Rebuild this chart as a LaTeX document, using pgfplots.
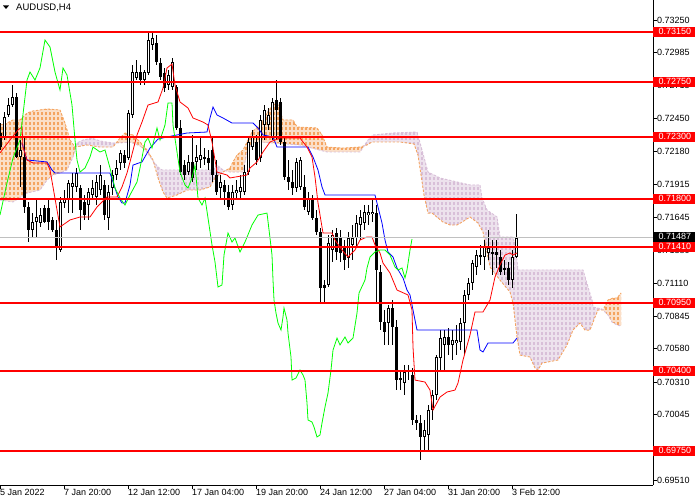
\documentclass[border=0pt]{standalone}
\usepackage{fontspec}
\setmainfont{Liberation Sans}
\usepackage{pgfplots}
\pgfplotsset{compat=1.18}
\usepackage{pgfplotstable}
\usepgfplotslibrary{fillbetween}
\usetikzlibrary{patterns}

\definecolor{sandy}{HTML}{F4A460}
\definecolor{thistlec}{HTML}{D8BFD8}
\definecolor{limec}{HTML}{00FF00}
\definecolor{silverc}{HTML}{C0C0C0}

% vertical dashed hatch, one line per candle (4pt)
\pgfdeclarepatternformonly{cloudhatch}{\pgfqpoint{-1pt}{-1pt}}{\pgfqpoint{5pt}{6pt}}{\pgfqpoint{4pt}{5pt}}{%
  \pgfsetlinewidth{1.2pt}%
  \pgfpathmoveto{\pgfqpoint{2pt}{0pt}}%
  \pgfpathlineto{\pgfqpoint{2pt}{3pt}}%
  \pgfusepath{stroke}}

\newcommand\pbox[2]{{\setlength\fboxsep{0pt}\colorbox{#1}{\rule[-2.3pt]{0pt}{10pt}\hspace{5.5pt}\textcolor{white}{#2}\hspace{3.5pt}}}}

% AUDUSD H4 candles, k = bar index
\pgfplotstableread{
k o h l c
0 0.72332 0.72413 0.72194 0.72218
1 0.72300 0.72503 0.72275 0.72462
2 0.72478 0.72616 0.72462 0.72559
3 0.72559 0.72722 0.72543 0.72624
4 0.72624 0.72657 0.72129 0.72137
5 0.72137 0.72275 0.71894 0.72194
6 0.72137 0.72300 0.71682 0.71731
7 0.71731 0.71772 0.71447 0.71544
8 0.71544 0.71682 0.71488 0.71609
9 0.71609 0.71788 0.71488 0.71650
10 0.71601 0.71723 0.71569 0.71666
11 0.71723 0.71747 0.71601 0.71609
12 0.71723 0.71788 0.71544 0.71609
13 0.71626 0.71650 0.71528 0.71544
14 0.71544 0.71626 0.71301 0.71406
15 0.71382 0.71812 0.71366 0.71772
16 0.71764 0.71869 0.71723 0.71804
17 0.71788 0.71950 0.71682 0.71926
18 0.71894 0.72007 0.71682 0.71926
19 0.71894 0.72048 0.71853 0.72007
20 0.71885 0.71910 0.71544 0.71707
21 0.71772 0.71829 0.71626 0.71666
22 0.71747 0.71885 0.71626 0.71853
23 0.71829 0.71950 0.71788 0.71885
24 0.71812 0.71991 0.71747 0.71934
25 0.71869 0.72072 0.71829 0.71991
26 0.71910 0.71950 0.71626 0.71666
27 0.71642 0.71910 0.71544 0.71853
28 0.71885 0.72032 0.71829 0.71991
29 0.71991 0.72113 0.71950 0.72048
30 0.72088 0.72194 0.72032 0.72170
31 0.72153 0.72194 0.72048 0.72088
32 0.72129 0.72519 0.72113 0.72494
33 0.72478 0.72884 0.72454 0.72827
34 0.72779 0.72925 0.72762 0.72827
35 0.72827 0.72884 0.72722 0.72762
36 0.72762 0.72844 0.72722 0.72827
37 0.72819 0.73144 0.72803 0.73087
38 0.73047 0.73152 0.73006 0.73103
39 0.73063 0.73128 0.72884 0.72909
40 0.72900 0.72941 0.72762 0.72787
41 0.72819 0.72860 0.72665 0.72697
42 0.72722 0.72844 0.72681 0.72803
43 0.72706 0.72941 0.72681 0.72909
44 0.72706 0.72722 0.72356 0.72373
45 0.72373 0.72438 0.71991 0.72015
46 0.72072 0.72113 0.71950 0.71991
47 0.72015 0.72153 0.71991 0.72097
48 0.72097 0.72316 0.71934 0.71967
49 0.72097 0.72235 0.72032 0.72137
50 0.72113 0.72291 0.72048 0.72153
51 0.72121 0.72210 0.72072 0.72137
52 0.72129 0.72194 0.72032 0.72088
53 0.72194 0.72291 0.71934 0.71991
54 0.71991 0.72113 0.71829 0.71853
55 0.71885 0.71991 0.71788 0.71934
56 0.71910 0.71950 0.71747 0.71853
57 0.71853 0.71910 0.71707 0.71731
58 0.71747 0.71910 0.71707 0.71853
59 0.71845 0.71950 0.71788 0.71869
60 0.71853 0.71991 0.71804 0.71894
61 0.71853 0.72072 0.71829 0.72015
62 0.72015 0.72291 0.71991 0.72259
63 0.72218 0.72356 0.72194 0.72300
64 0.72259 0.72316 0.72072 0.72113
65 0.72129 0.72478 0.72097 0.72438
66 0.72397 0.72559 0.72275 0.72519
67 0.72397 0.72535 0.72356 0.72478
68 0.72300 0.72616 0.72275 0.72584
69 0.72600 0.72762 0.72275 0.72519
70 0.72584 0.72616 0.72235 0.72259
71 0.72259 0.72291 0.71950 0.71975
72 0.71975 0.72113 0.71869 0.71934
73 0.71934 0.72032 0.71829 0.71885
74 0.71885 0.72129 0.71853 0.72097
75 0.71894 0.72137 0.71869 0.72113
76 0.71894 0.71991 0.71707 0.71731
77 0.71691 0.71853 0.71666 0.71804
78 0.71804 0.71829 0.71626 0.71642
79 0.71642 0.71707 0.71504 0.71528
80 0.71528 0.71561 0.70952 0.71073
81 0.71098 0.71138 0.70952 0.71073
82 0.71098 0.71504 0.71082 0.71439
83 0.71382 0.71544 0.71285 0.71504
84 0.71520 0.71561 0.71301 0.71366
85 0.71488 0.71544 0.71285 0.71358
86 0.71406 0.71463 0.71220 0.71301
87 0.71317 0.71528 0.71236 0.71479
88 0.71423 0.71585 0.71301 0.71479
89 0.71479 0.71666 0.71398 0.71601
90 0.71585 0.71707 0.71463 0.71650
91 0.71601 0.71747 0.71544 0.71691
92 0.71666 0.71747 0.71585 0.71691
93 0.71674 0.71788 0.71609 0.71691
94 0.71682 0.71747 0.70960 0.71220
95 0.71203 0.71260 0.70732 0.70797
96 0.70797 0.70895 0.70611 0.70716
97 0.70789 0.70935 0.70611 0.70911
98 0.70911 0.70976 0.70611 0.70757
99 0.70757 0.70814 0.70245 0.70326
100 0.70343 0.70408 0.70245 0.70326
101 0.70302 0.70448 0.70205 0.70391
102 0.70391 0.70448 0.70326 0.70408
103 0.70367 0.70424 0.69961 0.70002
104 0.70002 0.70042 0.69920 0.69977
105 0.69977 0.70042 0.69677 0.69864
106 0.69864 0.70002 0.69758 0.69920
107 0.69880 0.70123 0.69758 0.70083
108 0.70083 0.70245 0.70002 0.70205
109 0.70205 0.70529 0.70164 0.70513
110 0.70505 0.70732 0.70408 0.70667
111 0.70611 0.70732 0.70391 0.70676
112 0.70676 0.70749 0.70529 0.70611
113 0.70611 0.70732 0.70489 0.70651
114 0.70627 0.70773 0.70529 0.70651
115 0.70635 0.70830 0.70570 0.70789
116 0.70789 0.71057 0.70529 0.71017
117 0.71017 0.71155 0.70976 0.71114
118 0.71114 0.71301 0.71057 0.71276
119 0.71244 0.71382 0.71179 0.71341
120 0.71325 0.71423 0.71260 0.71341
121 0.71325 0.71463 0.71220 0.71406
122 0.71358 0.71544 0.71301 0.71398
123 0.71358 0.71463 0.71179 0.71366
124 0.71366 0.71463 0.71236 0.71341
125 0.71325 0.71382 0.71179 0.71203
126 0.71236 0.71301 0.71179 0.71220
127 0.71236 0.71285 0.71098 0.71138
128 0.71138 0.71382 0.71073 0.71325
129 0.71325 0.71674 0.71317 0.71479
}\candles

\begin{document}
\begin{tikzpicture}
\begin{axis}[
    at={(0,0)}, anchor=south west,
    scale only axis, width=653pt, height=485pt,
    xmin=0, xmax=163.25,
    ymin=0.69474, ymax=0.73412,
    axis x line*=bottom, axis y line*=right,
    axis line style={black, line width=0.8pt},
    tick align=outside, major tick length=4pt,
    tick style={black, line width=0.6pt},
    xtick={0,16,...,128},
    xticklabels={5 Jan 2022, 7 Jan 20:00, 12 Jan 12:00, 17 Jan 04:00, 19 Jan 20:00, 24 Jan 12:00, 27 Jan 04:00, 31 Jan 20:00, 3 Feb 12:00},
    ytick={0.73250,0.72985,0.72715,0.72450,0.72180,0.71915,0.71645,0.71380,0.71110,0.70845,0.70580,0.70310,0.70045,0.69780,0.69510},
    yticklabels={0.73250,0.72985,0.72715,0.72450,0.72180,0.71915,0.71645,0.71380,0.71110,0.70845,0.70580,0.70310,0.70045,{},0.69510},
    extra y ticks={0.73150,0.72750,0.72300,0.71800,0.71410,0.70950,0.70400,0.69750,0.71487},
    extra y tick labels={\pbox{red}{0.73150},\pbox{red}{0.72750},\pbox{red}{0.72300},\pbox{red}{0.71800},\pbox{red}{0.71410},\pbox{red}{0.70950},\pbox{red}{0.70400},\pbox{red}{0.69750},\pbox{black}{0.71487}},
    extra y tick style={major tick length=0pt},
    tick label style={font=\fontsize{9}{10}\selectfont},
    xticklabel style={anchor=north west, inner sep=0pt},
    yticklabel style={anchor=west, inner sep=0pt},
    /pgf/number format/assume math mode=true,
]

% Senkou span A and B
\addplot[name path=sa, sandy, line width=0.9pt, dash pattern=on 2.5pt off 1.5pt, forget plot] coordinates {
(0,0.72397)(1.75,0.72413)(3.25,0.72438)(5,0.72438)(6.75,0.72494)(8.25,0.72511)(11.75,0.72527)(15,0.72519)(16.25,0.72413)(17.5,0.72275)(18.75,0.72218)(21.75,0.72235)(25,0.72218)(28.25,0.72218)(30,0.72291)(31.25,0.72332)(33.25,0.72316)(35,0.72259)(36.75,0.72194)(38.25,0.72113)(39.5,0.71967)(40.75,0.71853)(41.75,0.71804)(44.25,0.71829)(46.75,0.71869)(50,0.71869)(52.5,0.71894)(53.75,0.71967)(55.75,0.72015)(57.5,0.72048)(58.25,0.72097)(59.25,0.72153)(60.75,0.72194)(61.75,0.72259)(63,0.72340)(65,0.72397)(66.75,0.72494)(68.25,0.72559)(69.25,0.72584)(70.75,0.72438)(73.25,0.72438)(74.25,0.72381)(79.25,0.72373)(80.5,0.72316)(81.75,0.72218)(85.75,0.72210)(90,0.72218)(91.75,0.72235)(93,0.72259)(100,0.72259)(103.5,0.72243)(104.5,0.72153)(105.25,0.71991)(106,0.71829)(107,0.71682)(108,0.71682)(110.75,0.71609)(112.5,0.71585)(114.25,0.71585)(115.5,0.71609)(117.5,0.71650)(119.5,0.71601)(120.75,0.71528)(122.5,0.71244)(125,0.71138)(127.5,0.71041)(128.25,0.70952)(129.25,0.70676)(130,0.70529)(132.5,0.70513)(133.75,0.70424)(134.5,0.70408)(135.5,0.70464)(137,0.70473)(139.5,0.70489)(141.75,0.70611)(143.25,0.70732)(145,0.70789)(146.25,0.70732)(147.5,0.70732)(148.75,0.70838)(149.5,0.70895)(150.75,0.70895)(152,0.70976)(153.25,0.70992)(154.25,0.70992)(155.25,0.71033)
};
\addplot[name path=sb, thistlec, line width=0.9pt, dash pattern=on 2.5pt off 1.5pt, forget plot] coordinates {
(0,0.71788)(3.25,0.71772)(6.75,0.71845)(10,0.71869)(11.75,0.71950)(13.25,0.71991)(15,0.72007)(16.75,0.72032)(18.25,0.72137)(19.25,0.72251)(20.75,0.72275)(23,0.72291)(25,0.72267)(28.25,0.72251)(30,0.72251)(32.5,0.72259)(35,0.72227)(36.75,0.72178)(38.25,0.72105)(39.5,0.72056)(40.5,0.72032)(53.25,0.72032)(54.25,0.72072)(55.75,0.72032)(57.5,0.72015)(60.75,0.72015)(61.75,0.72178)(63,0.72251)(65,0.72259)(75,0.72235)(81.75,0.72178)(90,0.72178)(92,0.72275)(93.25,0.72316)(98.25,0.72332)(104.25,0.72340)(105.5,0.72194)(107,0.72015)(110,0.71967)(117.5,0.71910)(120,0.71910)(120.5,0.71804)(121.75,0.71707)(124.25,0.71650)(125,0.71488)(128,0.71488)(128.75,0.71439)(129.5,0.71220)(145.75,0.71220)(147,0.71082)(148,0.70976)(148.25,0.70919)(150.5,0.70903)(152,0.70854)(153,0.70797)(154.25,0.70773)(155.25,0.70765)
};
% light tint under the hatch
\addplot[forget plot, draw=none] fill between[of=sa and sb, split,
    every segment no 0/.style={fill=sandy, fill opacity=0.35},
    every segment no 1/.style={fill=thistlec, fill opacity=0.45},
    every segment no 2/.style={fill=sandy, fill opacity=0.35},
    every segment no 3/.style={fill=thistlec, fill opacity=0.45},
    every segment no 4/.style={fill=sandy, fill opacity=0.35},
    every segment no 5/.style={fill=thistlec, fill opacity=0.45},
    every segment no 6/.style={fill=sandy, fill opacity=0.35}];
\addplot[forget plot, draw=none] fill between[of=sa and sb, split,
    every segment no 0/.style={pattern=cloudhatch, pattern color=sandy},
    every segment no 1/.style={pattern=cloudhatch, pattern color=thistlec},
    every segment no 2/.style={pattern=cloudhatch, pattern color=sandy},
    every segment no 3/.style={pattern=cloudhatch, pattern color=thistlec},
    every segment no 4/.style={pattern=cloudhatch, pattern color=sandy},
    every segment no 5/.style={pattern=cloudhatch, pattern color=thistlec},
    every segment no 6/.style={pattern=cloudhatch, pattern color=sandy}];

% candles: wicks, bodies, white inside of rising bars
\addplot[draw=none, mark=none, forget plot, error bars/.cd, y dir=both, y explicit, error mark=none,
    error bar style={draw=black, line width=1pt}]
    table[x=k, y expr={(\thisrow{h}+\thisrow{l})/2}, y error expr={(\thisrow{h}-\thisrow{l})/2}] {\candles};
\addplot[draw=none, mark=none, forget plot, error bars/.cd, y dir=both, y explicit, error mark=none,
    error bar style={draw=black, line width=3pt}]
    table[x=k, y expr={(\thisrow{o}+\thisrow{c})/2}, y error expr={max(abs(\thisrow{c}-\thisrow{o})/2,0.00005)}] {\candles};
\addplot[draw=none, mark=none, forget plot, error bars/.cd, y dir=both, y explicit, error mark=none,
    error bar style={draw=white, line width=1pt}]
    table[x=k, y expr={(\thisrow{o}+\thisrow{c})/2}, y error expr={max((\thisrow{c}-\thisrow{o})/2-0.00008,0)}] {\candles};

% Kijun-sen
\addplot[blue, line width=0.8pt, forget plot] coordinates {
(5.5,0.72251)(6.75,0.72113)(11.75,0.72097)(13,0.72032)(13.75,0.72007)(27.5,0.72007)(28.25,0.71934)(29.5,0.71812)(30.5,0.71764)(31.25,0.71764)(32.5,0.71910)(33.25,0.72072)(35.5,0.72097)(37.5,0.72210)(39.5,0.72283)(41.75,0.72300)(46.75,0.72332)(51.75,0.72340)(52.5,0.72454)(53.25,0.72543)(54.25,0.72478)(55.75,0.72454)(58,0.72413)(63.25,0.72413)(64.5,0.72373)(65.75,0.72316)(68.25,0.72300)(69.25,0.72218)(77,0.72218)(78.25,0.72137)(79.5,0.72032)(80.5,0.71894)(81.25,0.71829)(93.75,0.71829)(94.5,0.71731)(95.5,0.71601)(96.25,0.71463)(97,0.71366)(98.25,0.71325)(99.25,0.71236)(100.75,0.71155)(101.75,0.71057)(102.5,0.71017)(103.25,0.70895)(104.25,0.70732)(119.25,0.70732)(120,0.70570)(120.75,0.70554)(122,0.70627)(128.25,0.70627)(129.25,0.70667)
};
% Tenkan-sen
\addplot[red, line width=0.8pt, forget plot] coordinates {
(0,0.72170)(2.5,0.72275)(4.5,0.72356)(5.5,0.72381)(5.75,0.72218)(6.75,0.72113)(8.25,0.72088)(11.75,0.72088)(12.5,0.72032)(13.25,0.71894)(14.25,0.71707)(15,0.71569)(17.5,0.71626)(20,0.71650)(22.5,0.71650)(24.25,0.71731)(26.75,0.71812)(29.25,0.71812)(30.5,0.71894)(31.75,0.72007)(32.5,0.72097)(34.25,0.72316)(35.5,0.72421)(37,0.72559)(39.5,0.72584)(40.75,0.72697)(41.75,0.72860)(43,0.72892)(43.75,0.72722)(45,0.72584)(47,0.72535)(48.25,0.72454)(50.75,0.72421)(52,0.72397)(53,0.72259)(54.25,0.72015)(56.75,0.71991)(57.5,0.71967)(61.75,0.71991)(62.5,0.72048)(64.25,0.72097)(65.75,0.72178)(67.5,0.72259)(70,0.72291)(75,0.72291)(76.75,0.72218)(78,0.72137)(78.75,0.71975)(79.5,0.71764)(80.5,0.71569)(80.75,0.71520)(83,0.71520)(83.75,0.71463)(85.5,0.71382)(87,0.71325)(88.75,0.71382)(90,0.71463)(91.75,0.71488)(93,0.71488)(93.75,0.71423)(95,0.71358)(95.75,0.71276)(97.5,0.71195)(99.25,0.71057)(102,0.71017)(103,0.70895)(103.25,0.70594)(103.75,0.70326)(106.25,0.70310)(107.5,0.70245)(108.25,0.70083)(110,0.70188)(111.75,0.70229)(113.75,0.70245)(114.5,0.70302)(115.75,0.70489)(117.5,0.70692)(118.75,0.70879)(120.75,0.70879)(122.5,0.70976)(123.75,0.71163)(125,0.71260)(126.25,0.71341)(127.5,0.71358)(128.25,0.71341)(129.25,0.71358)
};
% Chikou span
\addplot[limec, line width=0.8pt, forget plot] coordinates {
(0,0.71666)(1.75,0.71926)(3.25,0.72129)(5,0.72275)(6.75,0.72762)(7.5,0.72827)(8.75,0.72762)(10,0.72860)(11.25,0.73087)(12.5,0.73030)(13.75,0.72827)(15,0.72681)(15.75,0.72860)(16.75,0.72803)(18,0.72559)(18.75,0.72275)(19.25,0.72113)(20,0.72015)(21.25,0.72048)(22.5,0.72137)(23.25,0.72218)(25,0.72178)(26.25,0.72194)(27.5,0.72048)(28.75,0.71885)(30,0.71804)(31.25,0.71747)(32.5,0.71829)(34.25,0.71934)(35,0.72048)(36.25,0.72259)(37,0.72291)(38,0.72210)(39.25,0.72373)(40,0.72275)(41.25,0.72397)(42,0.72576)(43,0.72576)(43.25,0.72397)(44.25,0.72178)(45,0.72015)(46.25,0.71910)(47,0.71885)(48,0.71967)(48.75,0.72072)(49.5,0.71804)(50.5,0.71747)(51.25,0.71804)(52,0.71642)(53,0.71423)(53.75,0.71285)(54.5,0.71082)(55.5,0.71098)(56,0.71341)(57,0.71520)(58,0.71447)(58.75,0.71479)(60,0.71366)(61.25,0.71447)(63,0.71585)(64.5,0.71666)(66.75,0.71682)(67.5,0.71479)(68,0.71341)(68.25,0.71138)(68.5,0.70976)(69,0.70870)(69.5,0.70789)(70.25,0.70732)(70.75,0.70838)(71,0.70911)(71.75,0.70814)(72,0.70708)(72.75,0.70513)(73,0.70326)(74,0.70343)(75,0.70408)(75.75,0.70367)(76.25,0.70326)(76.75,0.70140)(77,0.70002)(78,0.69985)(78.5,0.69945)(79.25,0.69864)(80,0.69880)(80.5,0.69977)(81.25,0.70107)(82,0.70221)(82.75,0.70408)(83.25,0.70570)(84.25,0.70667)(85,0.70611)(86.25,0.70676)(87,0.70627)(88.25,0.70667)(89.25,0.70870)(89.75,0.71033)(91.25,0.71138)(91.75,0.71236)(92.5,0.71325)(93.75,0.71366)(95,0.71382)(96.25,0.71382)(97.5,0.71341)(98.75,0.71244)(99.5,0.71220)(100.5,0.71236)(101.25,0.71155)(101.75,0.71220)(102.5,0.71382)(103,0.71471)
};

% bid line and horizontal levels
\addplot[silverc, line width=0.8pt, forget plot] coordinates {(0,0.71487) (163.25,0.71487)};
\pgfplotsinvokeforeach{0.73150,0.72750,0.72300,0.71800,0.71410,0.70950,0.70400,0.69750}{
  \addplot[red, line width=2pt, forget plot] coordinates {(0,#1) (163.25,#1)};
}

% chart caption
\fill[black] (rel axis cs:0,1) ++(3pt,-5.5pt) -- ++(6pt,0pt) -- ++(-3pt,-3.5pt) -- cycle;
\node[anchor=west, inner sep=0pt, font=\fontsize{9.5}{11}\selectfont, xshift=16pt, yshift=-8pt] at (rel axis cs:0,1) {AUDUSD,H4};
\end{axis}
\pgfresetboundingbox
\path[use as bounding box] (0,-15pt) rectangle (700pt,485pt);
\end{tikzpicture}
\end{document}
